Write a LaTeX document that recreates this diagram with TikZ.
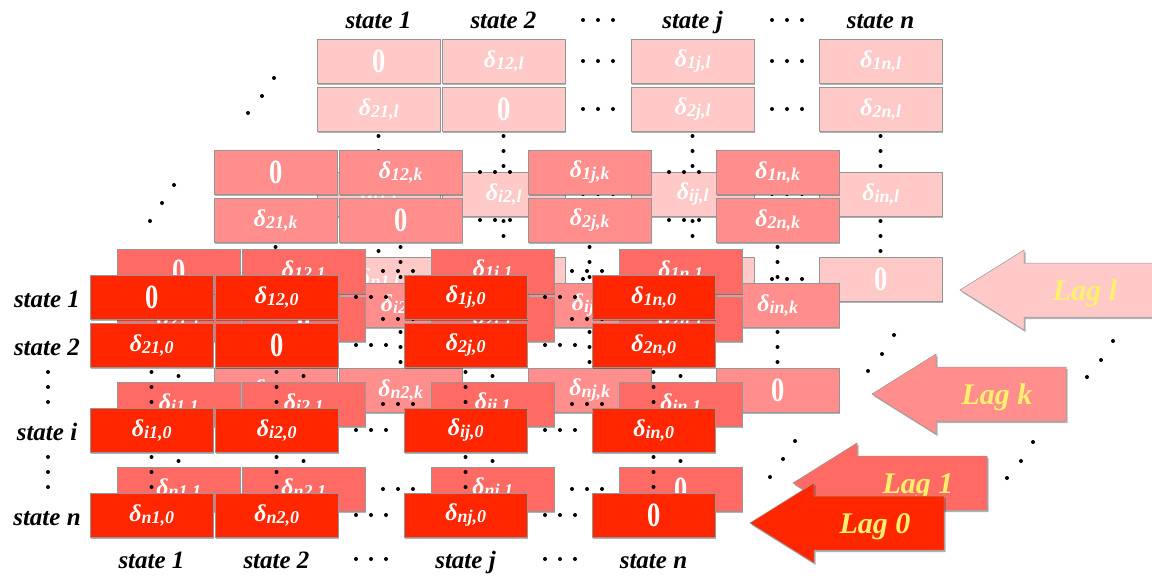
\documentclass[tikz,border=0pt]{standalone}
\usepackage{fontspec}
\setmainfont{Liberation Serif}
\usetikzlibrary{shadows}

\definecolor{layL}{RGB}{255,201,200}
\definecolor{layK}{RGB}{255,142,140}
\definecolor{layA}{RGB}{255,107,100}
\definecolor{layZ}{RGB}{255,38,0}
\definecolor{lagtext}{RGB}{255,240,110}
\definecolor{edgegray}{RGB}{150,150,150}

% cell entries: a delta with its pair and lag indices, or a zero
\newcommand{\dent}[1]{{\fontsize{24}{24}\selectfont δ}\raisebox{-2pt}{\fontsize{18}{18}\selectfont #1}}
\newcommand{\zent}{{\fontsize{34}{34}\selectfont\upshape\scalebox{0.78}[1]{0}}}

% one lag matrix: #1,#2 top-left corner, #3 fill colour, #4 lag index
\newcommand{\drawlayer}[4]{%
  \foreach \r/\ry in {1/0,2/48,i/133,n/218}{
    \foreach \c/\cx in {1/0,2/125,j/314,n/502}{
      \edef\ra{\r}\edef\ca{\c}%
      \ifx\ra\ca \def\cellbody{\zent}\else\edef\cellbody{\noexpand\dent{\r\c,#4}}\fi
      \node[cell, fill=#3] (g#4\r\c) at (#1+\cx, #2+\ry) {\cellbody};
    }
  }
  % elided columns
  \foreach \ry in {22,70,155,240}{
    \foreach \cx in {266,281,296,455,470,485}{
      \fill (#1+\cx, #2+\ry) circle (2pt);
    }
  }
  % elided rows
  \foreach \cx in {61.5,186.5,375.5,563.5}{
    \foreach \ry in {97,112,127,182,197,212}{
      \fill (#1+\cx, #2+\ry) circle (2pt);
    }
  }
}

% block arrow pointing left: #1,#2 tip, #3 fill, #4 label, #5 label name
\newcommand{\lagarrow}[5]{%
  \path[lagshape, fill=#3] (#1,#2) -- (#1+64,#2-40) -- (#1+64,#2-27) -- (#1+194,#2-27)
     -- (#1+194,#2+27) -- (#1+64,#2+27) -- (#1+64,#2+40) -- cycle;
  \node[laglabel, anchor=base] (#5) at (#1+125,#2+10) {#4};
}

% three dots on a rising diagonal
\newcommand{\diagdots}[6]{%
  \fill (#1,#2) circle (2pt);
  \fill (#3,#4) circle (2pt);
  \fill (#5,#6) circle (2pt);
}

\begin{document}
\begin{tikzpicture}[x=1pt,y=-1pt,
  cell/.style={draw=edgegray, line width=0.5pt, minimum width=123pt,
    minimum height=44pt, inner sep=0pt, anchor=north west, text=white,
    font=\bfseries\itshape,
    drop shadow={shadow xshift=1pt, shadow yshift=-1.5pt, opacity=0.3, fill=black}},
  lagshape/.style={draw=edgegray, line width=0.5pt,
    drop shadow={shadow xshift=1.5pt, shadow yshift=-2pt, opacity=0.3, fill=black}},
  laglabel/.style={text=lagtext, font=\fontsize{30}{30}\selectfont\bfseries\itshape, inner sep=0pt},
  statelabel/.style={text=black, font=\fontsize{25}{25}\selectfont\bfseries\itshape,
    inner sep=0pt, anchor=base},
]
\useasboundingbox (0,0) rectangle (1152,576);

% lag l, farthest back, with its column headings
\drawlayer{317}{39}{layL}{l}
\node[statelabel] (tl1) at (378.5,28) {state 1};
\node[statelabel] (tl2) at (503.5,28) {state 2};
\node[statelabel] (tlj) at (692.5,28) {state j};
\node[statelabel] (tln) at (880.5,28) {state n};
\foreach \x in {583,598,613,772,787,802}{\fill (\x,20) circle (2pt);}

% lag k
\drawlayer{214}{150}{layK}{k}
% lag 1
\drawlayer{117}{249}{layA}{1}
% lag 0, in front
\drawlayer{90}{275}{layZ}{0}

% row headings of lag 0
\node[statelabel] (r1) at (47,307) {state 1};
\node[statelabel] (r2) at (47,355) {state 2};
\node[statelabel] (ri) at (47,440) {state i};
\node[statelabel] (rn) at (47,525) {state n};
\foreach \y in {372,387,402,457,472,487}{\fill (48,\y) circle (2pt);}

% column headings of lag 0
\node[statelabel] (b1) at (151.5,568) {state 1};
\node[statelabel] (b2) at (276.5,568) {state 2};
\node[statelabel] (bj) at (465.5,568) {state j};
\node[statelabel] (bn) at (653.5,568) {state n};
\foreach \x in {356,371,386,545,560,575}{\fill (\x,559) circle (2pt);}

% dots between the stacked matrices
\diagdots{248}{113}{262}{96}{274}{78}
\diagdots{150}{221}{162}{203}{174}{185}
\diagdots{868}{371}{882}{354}{894}{335}
\diagdots{770}{477}{783}{459}{795}{441}

% lag arrows
\lagarrow{960}{290}{layL}{Lag l}{al}
\lagarrow{872}{394}{layK}{Lag k}{ak}
\lagarrow{793}{483}{layA}{Lag 1}{a1}
\lagarrow{750}{523}{layZ}{Lag 0}{a0}

% dots between the arrows
\diagdots{1087}{377}{1101}{360}{1113}{341}
\diagdots{1007}{478}{1021}{461}{1033}{442}
\end{tikzpicture}
\end{document}
